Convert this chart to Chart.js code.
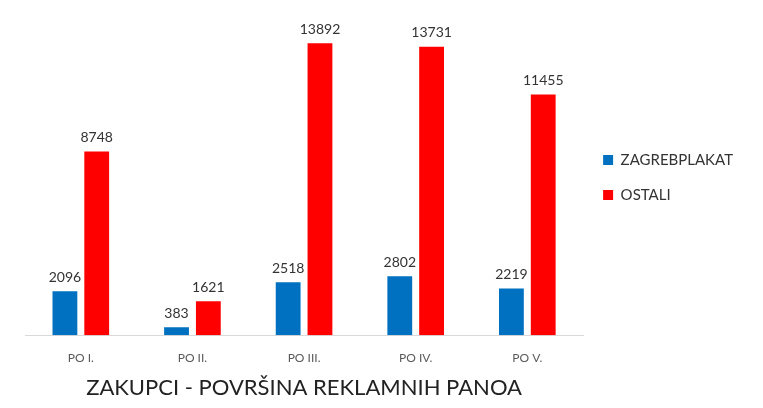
<!DOCTYPE html>
<html>
<head>
<meta charset="utf-8">
<script src="https://cdn.jsdelivr.net/npm/chart.js@4"></script>
<style>
html,body{margin:0;padding:0;background:#fff}
#wrap{width:763px;height:408px;position:relative}
</style>
</head>
<body>
<div id="wrap"><canvas id="c"></canvas></div>
<script>
var categories=["PO I.","PO II.","PO III.","PO IV.","PO V."];
var zagrebplakat=[2096,383,2518,2802,2219];
var ostali=[8748,1621,13892,13731,11455];
var seriesNames=["ZAGREBPLAKAT","OSTALI"];
var titleText="ZAKUPCI - POVRŠINA REKLAMNIH PANOA";

// value labels above each bar
var valueLabels={
  id:"valueLabels",
  afterDatasetsDraw:function(chart){
    var ctx=chart.ctx;
    ctx.save();
    ctx.font="14px Lato";
    ctx.fillStyle="#333";
    ctx.textAlign="center";
    ctx.textBaseline="bottom";
    chart.data.datasets.forEach(function(ds,i){
      chart.getDatasetMeta(i).data.forEach(function(bar,j){
        ctx.fillText(ds.data[j],bar.x,bar.y-7);
      });
    });
    ctx.restore();
  }
};

new Chart(document.getElementById("c"),{
  type:"bar",
  data:{labels:categories,datasets:[
    {label:seriesNames[0],data:zagrebplakat,backgroundColor:"#0070C0"},
    {label:seriesNames[1],data:ostali,backgroundColor:"#FF0000"}
  ]},
  options:{
    responsive:true,maintainAspectRatio:false,animation:false,
    categoryPercentage:0.57,barPercentage:0.78,
    layout:{padding:{left:25,top:20,right:20,bottom:0}},
    plugins:{
      legend:{position:"right",fullSize:false,labels:{boxWidth:10,boxHeight:10,padding:20,color:"#333",font:{family:"Lato",size:15}}},
      title:{display:true,text:titleText,position:"bottom",fullSize:false,color:"#222",font:{family:"Lato",size:22,weight:"normal"},padding:{top:1,bottom:7}},
      tooltip:{enabled:false}
    },
    scales:{
      x:{grid:{display:false},border:{color:"#d9d9d9"},ticks:{color:"#595959",font:{family:"Lato",size:12},padding:8}},
      y:{display:false,min:0,max:15000}
    }
  },
  plugins:[valueLabels]
});
</script>
</body>
</html>
